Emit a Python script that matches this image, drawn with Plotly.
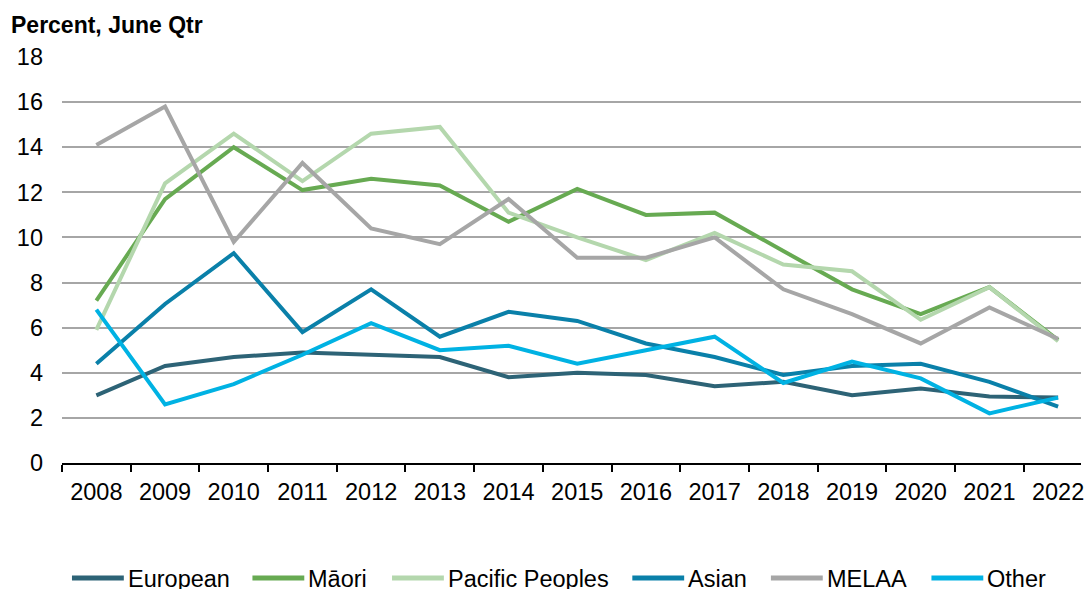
import plotly.graph_objects as go

years = [str(y) for y in range(2008, 2023)]

european = [3.0, 4.3, 4.7, 4.9, 4.8, 4.7, 3.8, 4.0, 3.9, 3.4, 3.6, 3.0, 3.3, 2.95, 2.9]
maori = [7.2, 11.7, 14.0, 12.1, 12.6, 12.3, 10.7, 12.15, 11.0, 11.1, 9.4, 7.7, 6.6, 7.8, 5.45]
pacific = [5.9, 12.4, 14.6, 12.5, 14.6, 14.9, 11.1, 10.0, 9.0, 10.2, 8.8, 8.5, 6.35, 7.8, 5.4]
asian = [4.4, 7.05, 9.3, 5.8, 7.7, 5.6, 6.7, 6.3, 5.3, 4.7, 3.9, 4.3, 4.4, 3.6, 2.5]
melaa = [14.1, 15.8, 9.8, 13.3, 10.4, 9.7, 11.7, 9.1, 9.1, 10.0, 7.7, 6.6, 5.3, 6.9, 5.5]
other = [6.8, 2.6, 3.5, 4.8, 6.2, 5.0, 5.2, 4.4, 5.0, 5.6, 3.55, 4.5, 3.75, 2.2, 2.9]

series_names = ["European", "Māori", "Pacific Peoples", "Asian", "MELAA", "Other"]
series_values = [european, maori, pacific, asian, melaa, other]
series_colors = ["#2D6376", "#67AA52", "#B4D7AD", "#0A80A9", "#A6A6A6", "#00B2E3"]

y_ticks = list(range(0, 19, 2))

FONT = "Arial, 'Liberation Sans', sans-serif"
LABEL_SIZE = 23.5
W, H = 1084, 589
L, R, T, B = 62, 0, 57, 126
PLOT_W = W - L - R
PLOT_H = H - T - B
CAT_W = 68.9  # pixel width of one year slot


def px_x(px):
    return (px - L) / PLOT_W


def px_y(py):
    return (H - B - py) / PLOT_H


fig = go.Figure()
for name, vals, col in zip(series_names, series_values, series_colors):
    fig.add_trace(go.Scatter(
        x=years, y=vals, mode="lines", name=name,
        line=dict(color=col, width=4),
        showlegend=False, hoverinfo="x+y+name",
    ))

# Legend row drawn below the axis: swatch line then label
legend_x = [72, 253, 393, 634, 773, 934]
legend_y = 578
for name, col, x0 in zip(series_names, series_colors, legend_x):
    fig.add_shape(type="line", xref="paper", yref="paper",
                  x0=px_x(x0), x1=px_x(x0 + 52), y0=px_y(legend_y), y1=px_y(legend_y),
                  line=dict(color=col, width=5))
    fig.add_annotation(xref="paper", yref="paper", x=px_x(x0 + 54), y=px_y(legend_y + 1),
                       text=name, showarrow=False, xanchor="left", yanchor="middle",
                       font=dict(family=FONT, size=LABEL_SIZE, color="#000000"))

fig.update_layout(
    width=W, height=H,
    margin=dict(l=L, r=R, t=T, b=B, pad=0),
    plot_bgcolor="white", paper_bgcolor="white",
    font=dict(family=FONT, size=LABEL_SIZE, color="#000000"),
    title=dict(text="<b>Percent, June Qtr</b>", x=11 / W, xanchor="left",
               y=1 - 25 / H, yanchor="middle", xref="container", yref="container",
               font=dict(family=FONT, size=23, color="#000000")),
    xaxis=dict(
        type="category", categoryorder="array", categoryarray=years,
        range=[-0.5, -0.5 + PLOT_W / CAT_W],
        showgrid=False, zeroline=False,
        showline=True, linecolor="#000000", linewidth=1.5,
        ticks="outside", tickson="boundaries", ticklen=7, tickwidth=1.5, tickcolor="#000000",
        tickfont=dict(family=FONT, size=LABEL_SIZE, color="#000000"),
        ticklabelstandoff=7,
    ),
    yaxis=dict(
        range=[0, 18], tickvals=y_ticks, showgrid=True, gridcolor="#A6A6A6", gridwidth=1.5,
        zeroline=False, showline=False, ticks="",
        tickfont=dict(family=FONT, size=LABEL_SIZE, color="#000000"),
        ticklabelstandoff=18,
    ),
)

fig.write_html("out.html", config={"displayModeBar": False})
